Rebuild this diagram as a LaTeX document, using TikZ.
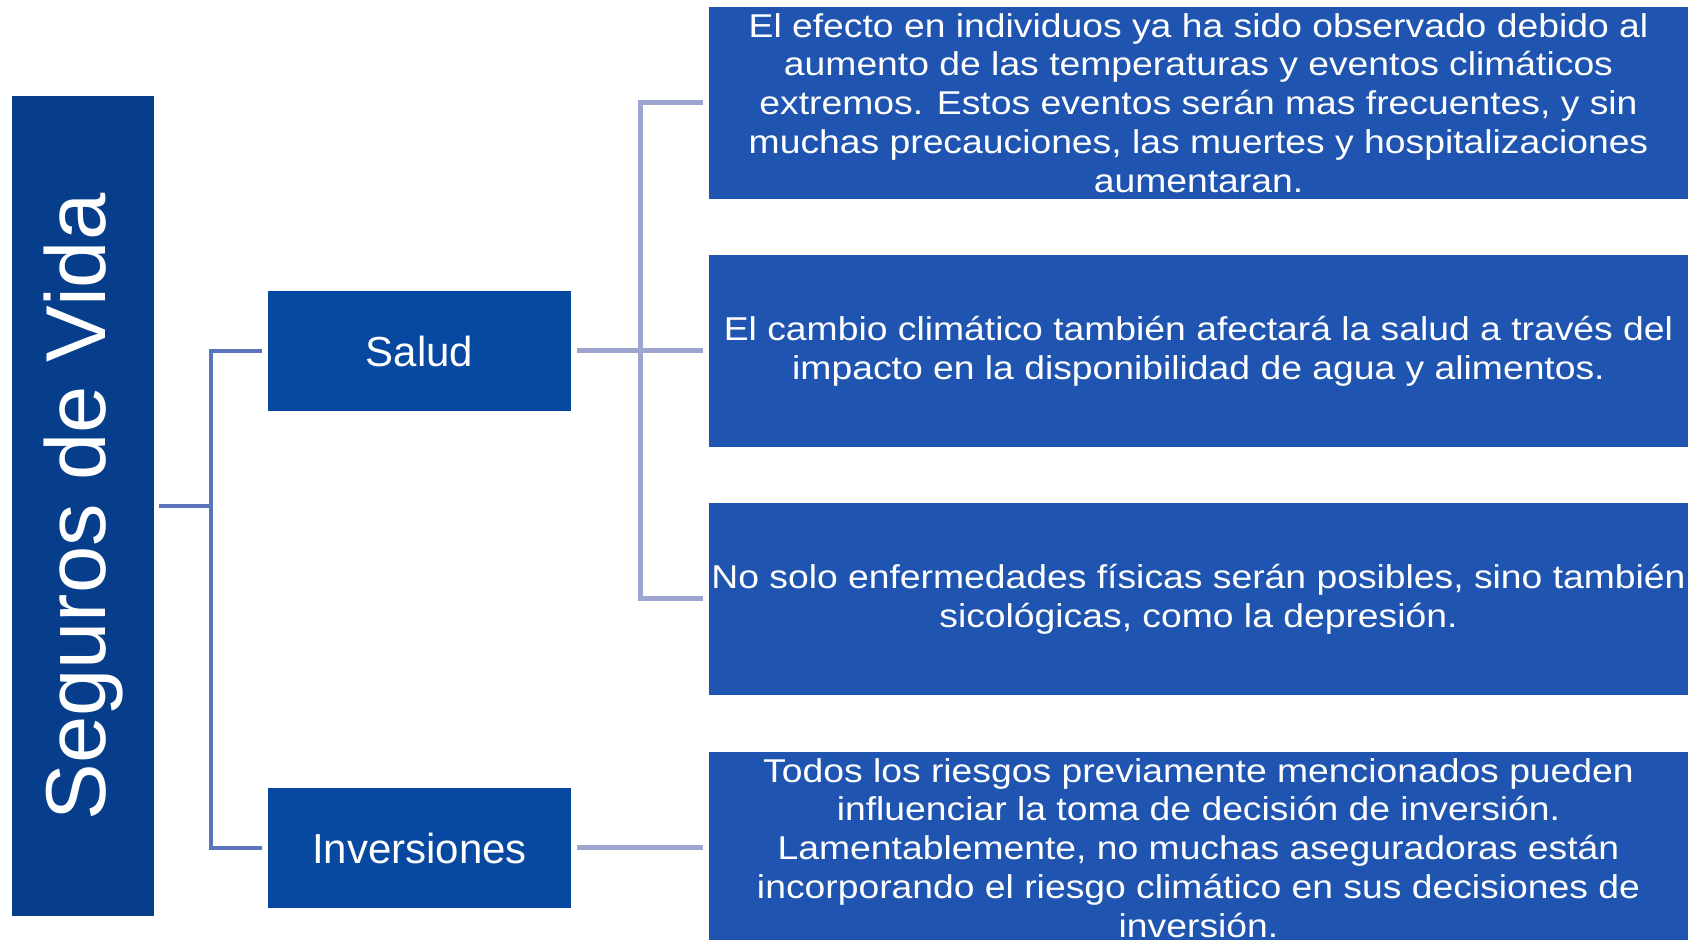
\documentclass[tikz,border=0pt]{standalone}
\usepackage{fontspec}
\setmainfont{Liberation Sans}
\newfontfamily\widefont[FakeStretch=1.13]{Liberation Sans}
\definecolor{cVida}{RGB}{6,62,140}
\definecolor{cMid}{RGB}{7,72,160}
\definecolor{cRight}{RGB}{31,85,176}
\definecolor{cLineA}{RGB}{91,116,190}
\definecolor{cLineB}{RGB}{155,165,207}
\tikzset{
  midbox/.style={fill=cMid, draw=none, minimum width=151.5pt, minimum height=60pt, inner sep=0pt, text=white, font=\fontsize{21}{25}\selectfont},
  rbox/.style={fill=cRight, draw=none, minimum width=489.5pt, minimum height=96pt, inner sep=0pt, text=white, align=center, font=\widefont\fontsize{16.5}{19.4}\selectfont},
  conA/.style={draw=cLineA, line width=2pt},
  conB/.style={draw=cLineB, line width=2.5pt},
}
\begin{document}
\begin{tikzpicture}[x=0.5pt, y=-0.5pt]
\useasboundingbox (0,0) rectangle (1704,940);
\clip (0,0) rectangle (1704,940);
\node[fill=cVida, minimum width=71pt, minimum height=410pt, inner sep=0pt] (vida) at (83,506) {};
\node[rotate=90, text=white, font=\fontsize{42.5}{48}\selectfont, inner sep=0pt] (vidat) at (84,507) {Seguros de Vida};
\node[midbox] (salud) at (419.5,351) {Salud};
\node[midbox] (inv) at (419.5,848) {Inversiones};
\node[rbox] (r1) at (1198.5,103) {El efecto en individuos ya ha sido observado debido al\\aumento de las temperaturas y eventos climáticos\\extremos. Estos eventos serán mas frecuentes, y sin\\muchas precauciones, las muertes y hospitalizaciones\\aumentaran.};
\node[rbox] (r2) at (1198.5,351) {El cambio climático también afectará la salud a través del\\impacto en la disponibilidad de agua y alimentos.};
\node[rbox] (r3) at (1198.5,599) {No solo enfermedades físicas serán posibles, sino también\\sicológicas, como la depresión.};
\node[rbox] (r4) at (1198.5,848) {Todos los riesgos previamente mencionados pueden\\influenciar la toma de decisión de inversión.\\Lamentablemente, no muchas aseguradoras están\\incorporando el riesgo climático en sus decisiones de\\inversión.};
\coordinate (j1) at (211,506);
\coordinate (j2) at (640,351);
\draw[conA] ([xshift=2.5pt]vida.east) -- (j1);
\draw[conA] ([xshift=-3pt]salud.west) -| (j1) |- ([xshift=-3pt]inv.west);
\draw[conB] ([xshift=3pt]salud.east) -- ([xshift=-3pt]r2.west);
\draw[conB] ([xshift=-3pt]r1.west) -| (j2) |- ([xshift=-3pt]r3.west);
\draw[conB] ([xshift=3pt]inv.east) -- ([xshift=-3pt]r4.west);
\end{tikzpicture}
\end{document}
